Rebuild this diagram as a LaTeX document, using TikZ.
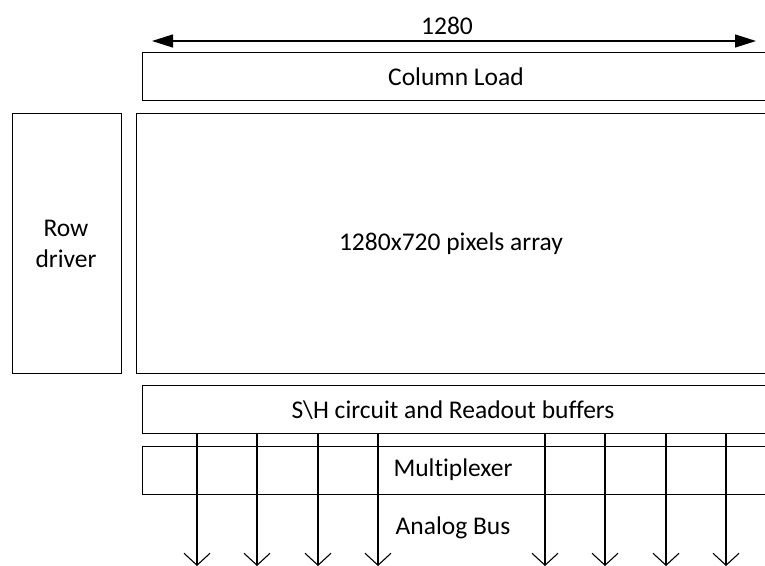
\documentclass[tikz,border=0pt]{standalone}
\usepackage{fontspec}
\setmainfont{Carlito}[Ligatures=CommonOff]
\usetikzlibrary{arrows.meta}
\begin{document}
\begin{tikzpicture}[x=1pt,y=-1pt,
  box/.style={draw=black, line width=1.3pt, rectangle, anchor=north west, inner sep=0pt},
  lbl/.style={font=\fontsize{25.5}{31}\selectfont, inner sep=0pt},
  busarrow/.style={line width=1.2pt, -{Straight Barb[length=12pt,width=26pt,line width=1.1pt]}},
  dimarrow/.style={line width=1.3pt, {Triangle[length=21pt,width=13pt]}-{Triangle[length=21pt,width=13pt]}}]
\clip (0,0) rectangle (765,565);
\fill[white] (0,0) rectangle (765,565);
% boxes
\node[box, minimum width=624pt, minimum height=48pt] (cl) at (142,52) {};
\node[lbl] (cltext) at (456,77) {Column Load};
\node[box, minimum width=109pt, minimum height=260pt] (rd) at (12,113) {};
\node[lbl, align=center] (rdtext) at (66,244) {Row\\driver};
\node[box, minimum width=630pt, minimum height=260pt] (pa) at (136,113) {};
\node[lbl] (patext) at (451,244) {1280x720 pixels array};
\node[box, minimum width=624pt, minimum height=48pt] (sh) at (142,385) {};
\node[lbl] (shtext) at (453,410) {S\textbackslash H circuit and Readout buffers};
\node[box, minimum width=624pt, minimum height=48pt] (mx) at (142,446) {};
\node[lbl] (mxtext) at (453,470) {Multiplexer};
\node[lbl] (abtext) at (453,528) {Analog Bus};
% dimension arrow
\coordinate (dl) at (152,41);
\coordinate (dr) at (756,41);
\draw[dimarrow] (dl) -- (dr);
\node[lbl] (dimtext) at (447,26) {1280};
% bus lines
\foreach \i/\x in {1/197,2/257,3/318,4/378,5/545,6/605,7/666,8/726} {
  \coordinate (b\i) at (\x,566);
  \draw[busarrow] (sh.south -| b\i) -- (b\i);
}
\end{tikzpicture}
\end{document}
